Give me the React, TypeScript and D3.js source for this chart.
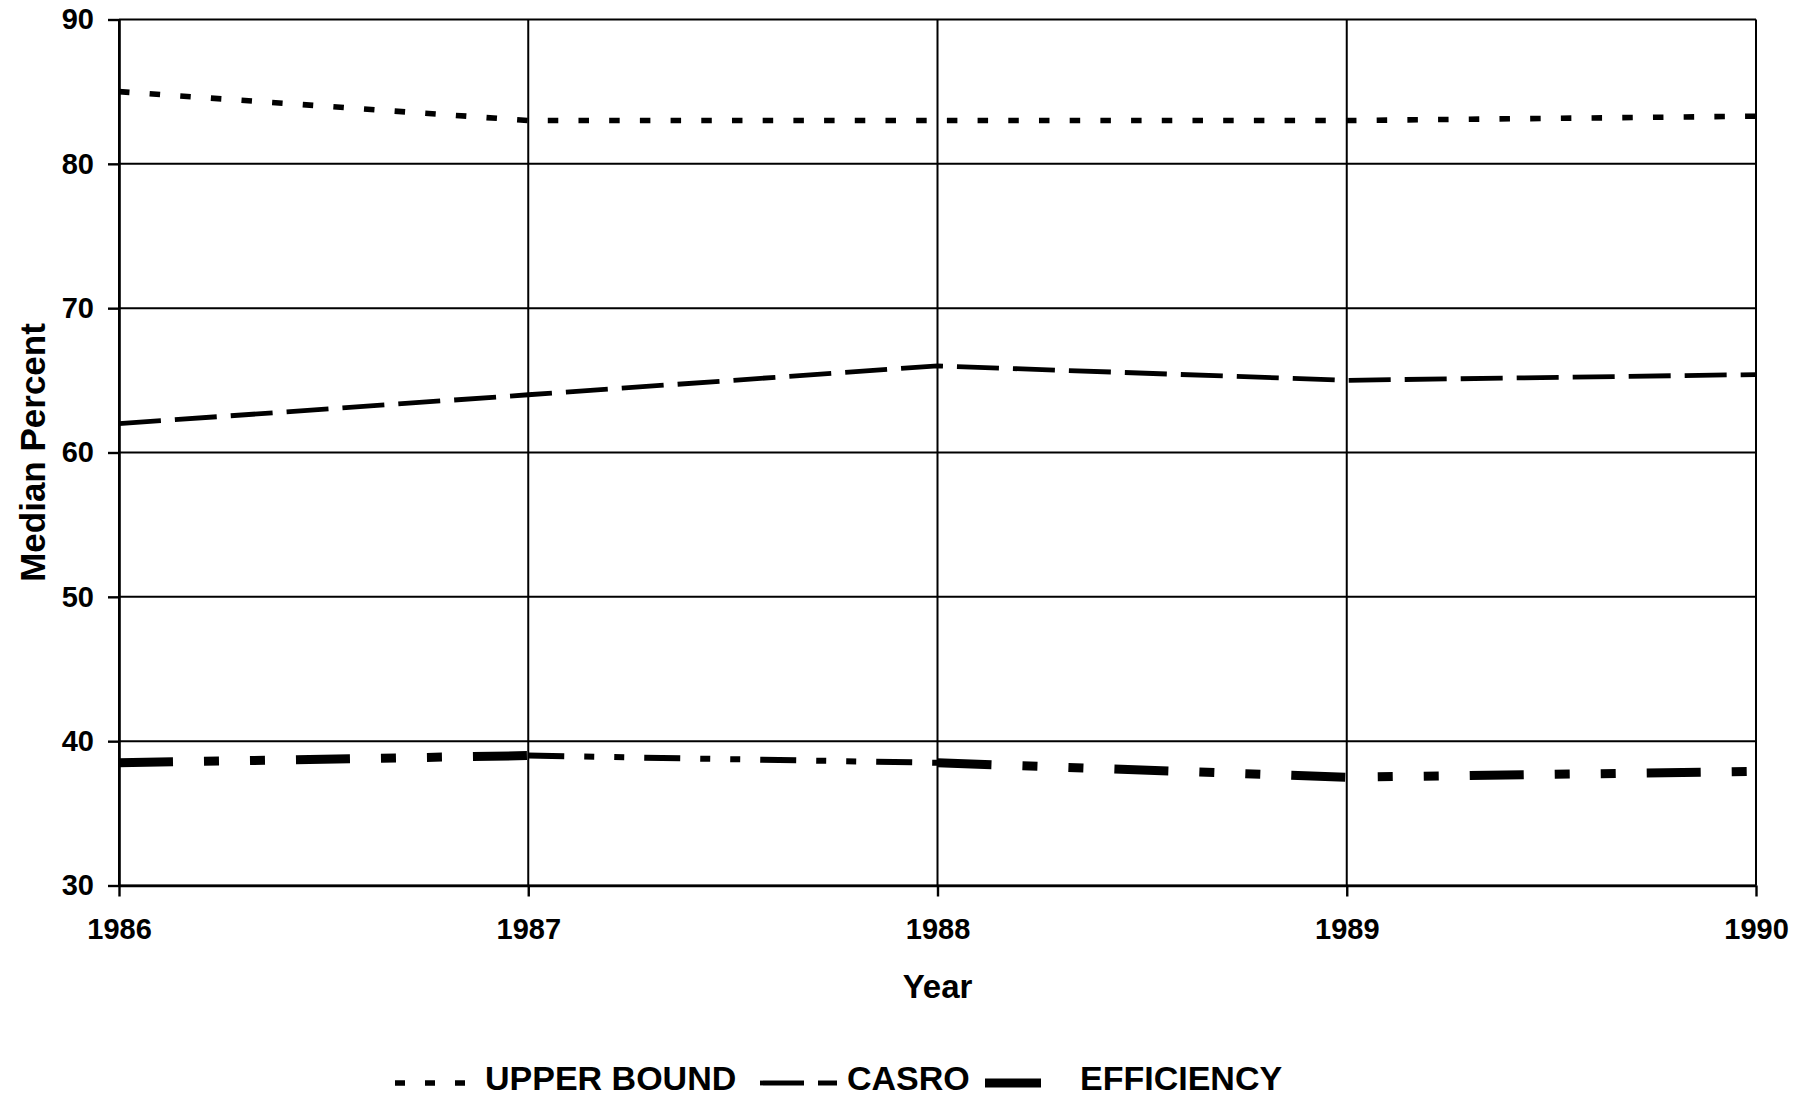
import React, { useEffect, useRef } from 'react';
import * as d3 from 'd3';

// data
const years = [1986, 1987, 1988, 1989, 1990];
const upperBound = [85, 83, 83, 83, 83.3];
const casro = [62, 64, 66, 65, 65.4];
const efficiency = [38.5, 39, 38.5, 37.5, 37.9];
const yTicks = [30, 40, 50, 60, 70, 80, 90];
const legendLabels = ['UPPER BOUND', 'CASRO', 'EFFICIENCY'];

const W = 1811;
const H = 1099;
const FONT = "'Liberation Sans', Arial, Helvetica, sans-serif";

// efficiency is drawn segment by segment (the middle one is thinner in the original)
const effSegStyle = [
    { w: 9, dash: [54, 31, 15, 31, 15, 31], offset: 0 },
    { w: 6, dash: [36, 20, 10, 20, 10, 20], offset: 0 },
    { w: 9, dash: [54, 31, 15, 31, 15, 31], offset: 0 },
    { w: 9, dash: [54, 31, 15, 31, 15, 31], offset: 54 },
];

const App = () => {
    const svgRef = useRef<SVGSVGElement>(null);

    useEffect(() => {
        const svg = d3.select(svgRef.current);
        svg.selectAll('*').remove();

        const x = d3.scaleLinear().domain([1986, 1990]).range([119, 1756]);
        const y = d3.scaleLinear().domain([30, 90]).range([885.5, 19.5]);

        const g = svg.append('g');

        // grid lines
        g.selectAll('.hgrid')
            .data(yTicks)
            .enter()
            .append('line')
            .attr('x1', x(1986))
            .attr('x2', x(1990))
            .attr('y1', d => y(d))
            .attr('y2', d => y(d))
            .attr('stroke', '#000')
            .attr('stroke-width', 2);

        g.selectAll('.vgrid')
            .data(years)
            .enter()
            .append('line')
            .attr('x1', d => x(d))
            .attr('x2', d => x(d))
            .attr('y1', y(90))
            .attr('y2', y(30))
            .attr('stroke', '#000')
            .attr('stroke-width', 2);

        // axes
        const yAxis = d3.axisLeft(y).tickValues(yTicks).tickSize(11).tickSizeOuter(0).tickPadding(14);
        const ga = g.append('g').attr('transform', `translate(${x(1986)},0)`).call(yAxis);
        const xAxis = d3.axisBottom(x).tickValues(years).tickFormat(d3.format('d')).tickSize(11).tickSizeOuter(0).tickPadding(22);
        const gb = g.append('g').attr('transform', `translate(0,${y(30)})`).call(xAxis);

        [ga, gb].forEach(a => {
            a.select('.domain').attr('stroke', '#000').attr('stroke-width', 2.6);
            a.selectAll('.tick line').attr('stroke', '#000').attr('stroke-width', 2.4);
            a.selectAll('.tick text')
                .attr('fill', '#000')
                .style('font-family', FONT)
                .style('font-weight', 'bold')
                .style('font-size', '29px');
        });

        const line = d3.line<number>()
            .x((_, i) => x(years[i]))
            .y(d => y(d));

        // upper bound
        g.append('path')
            .datum(upperBound)
            .attr('d', line)
            .attr('fill', 'none')
            .attr('stroke', '#000')
            .attr('stroke-width', 5.6)
            .attr('stroke-dasharray', '10.5 20.2');

        // casro
        g.append('path')
            .datum(casro)
            .attr('d', line)
            .attr('fill', 'none')
            .attr('stroke', '#000')
            .attr('stroke-width', 4.8)
            .attr('stroke-dasharray', '42 14');

        // efficiency
        const segs = d3.pairs(efficiency.map((v, i) => [years[i], v] as [number, number]));
        g.selectAll('.eff')
            .data(segs)
            .enter()
            .append('path')
            .attr('d', d => `M${x(d[0][0])},${y(d[0][1])}L${x(d[1][0])},${y(d[1][1])}`)
            .attr('fill', 'none')
            .attr('stroke', '#000')
            .attr('stroke-width', (_, i) => effSegStyle[i].w)
            .attr('stroke-dasharray', (_, i) => effSegStyle[i].dash.join(' '))
            .attr('stroke-dashoffset', (_, i) => effSegStyle[i].offset);

        // axis titles
        g.append('text')
            .attr('x', (x(1986) + x(1990)) / 2)
            .attr('y', 998)
            .attr('text-anchor', 'middle')
            .style('font-family', FONT)
            .style('font-weight', 'bold')
            .style('font-size', '33px')
            .text('Year');

        g.append('text')
            .attr('transform', `translate(45,${(y(30) + y(90)) / 2}) rotate(-90)`)
            .attr('text-anchor', 'middle')
            .style('font-family', FONT)
            .style('font-weight', 'bold')
            .style('font-size', '35px')
            .text('Median Percent');

        // legend
        const legendY = 1083;
        const legendItems = [
            { sx: 395, len: 75, w: 5.6, dash: '10 20', tx: 485 },
            { sx: 760, len: 77, w: 4.8, dash: '44 14', tx: 847 },
            { sx: 985, len: 56, w: 9, dash: null, tx: 1080 },
        ];
        const lg = g.selectAll('.legend')
            .data(legendLabels)
            .enter()
            .append('g');
        lg.append('line')
            .attr('x1', (_, i) => legendItems[i].sx)
            .attr('x2', (_, i) => legendItems[i].sx + legendItems[i].len)
            .attr('y1', legendY)
            .attr('y2', legendY)
            .attr('stroke', '#000')
            .attr('stroke-width', (_, i) => legendItems[i].w)
            .attr('stroke-dasharray', (_, i) => legendItems[i].dash);
        lg.append('text')
            .attr('x', (_, i) => legendItems[i].tx)
            .attr('y', 1090)
            .style('font-family', FONT)
            .style('font-weight', 'bold')
            .style('font-size', '34px')
            .text(d => d);
    }, []);

    return (
        <svg
            ref={svgRef}
            width={W}
            height={H}
            style={{ position: 'absolute', left: 0, top: 0, background: '#fff', display: 'block' }}
        />
    );
};

export default App;
